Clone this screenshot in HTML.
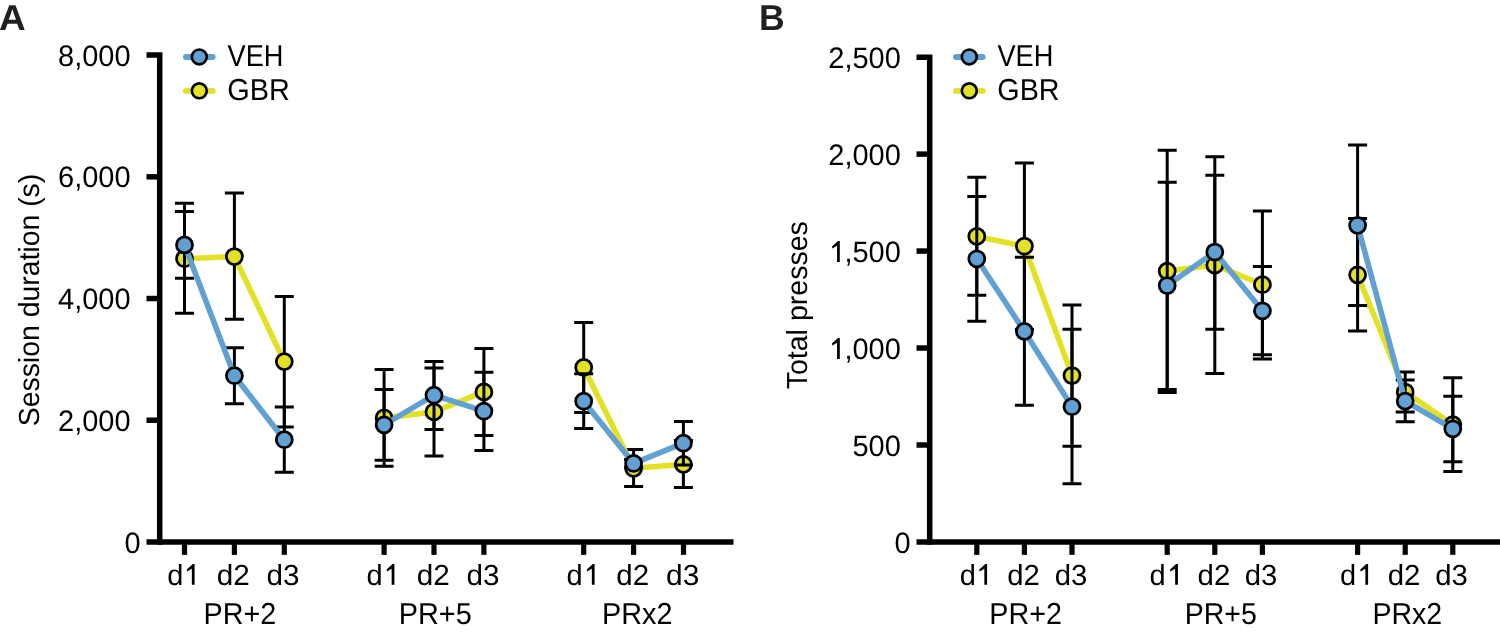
<!DOCTYPE html><html><head><meta charset="utf-8"><style>html,body{margin:0;padding:0;background:#fff;width:1500px;height:634px;overflow:hidden}svg{display:block;will-change:transform}text{font-family:"Liberation Sans",sans-serif;text-rendering:geometricPrecision}</style></head><body>
<svg width="1500" height="634" viewBox="0 0 1500 634">
<rect width="1500" height="634" fill="#fff"/>
<path d="M146.50,55.11H159.70V544.70" stroke="#000" stroke-width="5.5" fill="none" stroke-linejoin="miter"/>
<path d="M146.50,541.95H733.50" stroke="#000" stroke-width="5.5" fill="none"/>
<path d="M146.50,420.24H159.70" stroke="#000" stroke-width="5.5" fill="none"/>
<path d="M146.50,298.53H159.70" stroke="#000" stroke-width="5.5" fill="none"/>
<path d="M146.50,176.82H159.70" stroke="#000" stroke-width="5.5" fill="none"/>
<path d="M184.50,541.95V554.85" stroke="#000" stroke-width="5.2" fill="none"/>
<path d="M234.40,541.95V554.85" stroke="#000" stroke-width="5.2" fill="none"/>
<path d="M284.30,541.95V554.85" stroke="#000" stroke-width="5.2" fill="none"/>
<path d="M384.10,541.95V554.85" stroke="#000" stroke-width="5.2" fill="none"/>
<path d="M434.00,541.95V554.85" stroke="#000" stroke-width="5.2" fill="none"/>
<path d="M483.90,541.95V554.85" stroke="#000" stroke-width="5.2" fill="none"/>
<path d="M583.70,541.95V554.85" stroke="#000" stroke-width="5.2" fill="none"/>
<path d="M633.60,541.95V554.85" stroke="#000" stroke-width="5.2" fill="none"/>
<path d="M683.50,541.95V554.85" stroke="#000" stroke-width="5.2" fill="none"/>
<path d="M916.50,57.15H929.70V544.70" stroke="#000" stroke-width="5.5" fill="none" stroke-linejoin="miter"/>
<path d="M916.50,541.95H1500.50" stroke="#000" stroke-width="5.5" fill="none"/>
<path d="M916.50,444.99H929.70" stroke="#000" stroke-width="5.5" fill="none"/>
<path d="M916.50,348.03H929.70" stroke="#000" stroke-width="5.5" fill="none"/>
<path d="M916.50,251.07H929.70" stroke="#000" stroke-width="5.5" fill="none"/>
<path d="M916.50,154.11H929.70" stroke="#000" stroke-width="5.5" fill="none"/>
<path d="M976.80,541.95V554.85" stroke="#000" stroke-width="5.2" fill="none"/>
<path d="M1024.40,541.95V554.85" stroke="#000" stroke-width="5.2" fill="none"/>
<path d="M1072.00,541.95V554.85" stroke="#000" stroke-width="5.2" fill="none"/>
<path d="M1167.20,541.95V554.85" stroke="#000" stroke-width="5.2" fill="none"/>
<path d="M1214.80,541.95V554.85" stroke="#000" stroke-width="5.2" fill="none"/>
<path d="M1262.40,541.95V554.85" stroke="#000" stroke-width="5.2" fill="none"/>
<path d="M1357.60,541.95V554.85" stroke="#000" stroke-width="5.2" fill="none"/>
<path d="M1405.20,541.95V554.85" stroke="#000" stroke-width="5.2" fill="none"/>
<path d="M1452.80,541.95V554.85" stroke="#000" stroke-width="5.2" fill="none"/>
<path d="M184.50,203.20V313.20M175.00,203.20H194.00M175.00,313.20H194.00M234.40,193.10V319.30M224.90,193.10H243.90M224.90,319.30H243.90M284.30,296.60V426.90M274.80,296.60H293.80M274.80,426.90H293.80M384.10,369.40V466.30M374.60,369.40H393.60M374.60,466.30H393.60M434.00,368.00V455.90M424.50,368.00H443.50M424.50,455.90H443.50M483.90,348.40V435.40M474.40,348.40H493.40M474.40,435.40H493.40M583.70,322.60V412.50M574.20,322.60H593.20M574.20,412.50H593.20M633.60,449.50V486.50M624.10,449.50H643.10M624.10,486.50H643.10M683.40,440.60V487.40M673.90,440.60H692.90M673.90,487.40H692.90" stroke="#000" stroke-width="3.0" fill="none"/>
<path d="M184.50,258.70 L234.40,256.50 L284.30,361.60" stroke="#E3E125" stroke-width="5.6" fill="none" stroke-linejoin="round"/>
<path d="M384.10,417.90 L434.00,411.90 L483.90,391.90" stroke="#E3E125" stroke-width="5.6" fill="none" stroke-linejoin="round"/>
<path d="M583.70,367.40 L633.60,468.30 L683.40,464.40" stroke="#E3E125" stroke-width="5.6" fill="none" stroke-linejoin="round"/>
<circle cx="184.50" cy="258.70" r="8.0" fill="#E3E125" stroke="#000" stroke-width="2.75"/>
<circle cx="234.40" cy="256.50" r="8.0" fill="#E3E125" stroke="#000" stroke-width="2.75"/>
<circle cx="284.30" cy="361.60" r="8.0" fill="#E3E125" stroke="#000" stroke-width="2.75"/>
<circle cx="384.10" cy="417.90" r="8.0" fill="#E3E125" stroke="#000" stroke-width="2.75"/>
<circle cx="434.00" cy="411.90" r="8.0" fill="#E3E125" stroke="#000" stroke-width="2.75"/>
<circle cx="483.90" cy="391.90" r="8.0" fill="#E3E125" stroke="#000" stroke-width="2.75"/>
<circle cx="583.70" cy="367.40" r="8.0" fill="#E3E125" stroke="#000" stroke-width="2.75"/>
<circle cx="633.60" cy="468.30" r="8.0" fill="#E3E125" stroke="#000" stroke-width="2.75"/>
<circle cx="683.40" cy="464.40" r="8.0" fill="#E3E125" stroke="#000" stroke-width="2.75"/>
<path d="M184.50,211.50V278.30M175.00,211.50H194.00M175.00,278.30H194.00M234.40,347.70V403.70M224.90,347.70H243.90M224.90,403.70H243.90M284.30,407.00V472.30M274.80,407.00H293.80M274.80,472.30H293.80M384.10,389.50V460.30M374.60,389.50H393.60M374.60,460.30H393.60M434.00,361.40V429.40M424.50,361.40H443.50M424.50,429.40H443.50M483.90,372.20V450.40M474.40,372.20H493.40M474.40,450.40H493.40M583.70,373.80V428.40M574.20,373.80H593.20M574.20,428.40H593.20M633.60,459.40V467.40M624.10,459.40H643.10M624.10,467.40H643.10M683.40,421.40V465.00M673.90,421.40H692.90M673.90,465.00H692.90" stroke="#000" stroke-width="3.0" fill="none"/>
<path d="M184.50,244.90 L234.40,375.70 L284.30,439.70" stroke="#60A0D3" stroke-width="5.6" fill="none" stroke-linejoin="round"/>
<path d="M384.10,424.80 L434.00,395.20 L483.90,411.20" stroke="#60A0D3" stroke-width="5.6" fill="none" stroke-linejoin="round"/>
<path d="M583.70,401.20 L633.60,463.45 L683.40,443.20" stroke="#60A0D3" stroke-width="5.6" fill="none" stroke-linejoin="round"/>
<circle cx="184.50" cy="244.90" r="8.0" fill="#60A0D3" stroke="#000" stroke-width="2.75"/>
<circle cx="234.40" cy="375.70" r="8.0" fill="#60A0D3" stroke="#000" stroke-width="2.75"/>
<circle cx="284.30" cy="439.70" r="8.0" fill="#60A0D3" stroke="#000" stroke-width="2.75"/>
<circle cx="384.10" cy="424.80" r="8.0" fill="#60A0D3" stroke="#000" stroke-width="2.75"/>
<circle cx="434.00" cy="395.20" r="8.0" fill="#60A0D3" stroke="#000" stroke-width="2.75"/>
<circle cx="483.90" cy="411.20" r="8.0" fill="#60A0D3" stroke="#000" stroke-width="2.75"/>
<circle cx="583.70" cy="401.20" r="8.0" fill="#60A0D3" stroke="#000" stroke-width="2.75"/>
<circle cx="633.60" cy="463.45" r="8.0" fill="#60A0D3" stroke="#000" stroke-width="2.75"/>
<circle cx="683.40" cy="443.20" r="8.0" fill="#60A0D3" stroke="#000" stroke-width="2.75"/>
<path d="M976.80,177.20V295.30M967.30,177.20H986.30M967.30,295.30H986.30M1024.40,163.00V329.60M1014.90,163.00H1033.90M1014.90,329.60H1033.90M1072.00,305.00V446.30M1062.50,305.00H1081.50M1062.50,446.30H1081.50M1167.20,150.20V392.50M1157.70,150.20H1176.70M1157.70,392.50H1176.70M1214.80,156.80V373.60M1205.30,156.80H1224.30M1205.30,373.60H1224.30M1262.40,210.90V358.90M1252.90,210.90H1271.90M1252.90,358.90H1271.90M1357.60,218.40V331.00M1348.10,218.40H1367.10M1348.10,331.00H1367.10M1405.20,372.10V411.90M1395.70,372.10H1414.70M1395.70,411.90H1414.70M1452.80,377.70V471.50M1443.30,377.70H1462.30M1443.30,471.50H1462.30" stroke="#000" stroke-width="3.0" fill="none"/>
<path d="M976.80,236.40 L1024.40,246.20 L1072.00,375.50" stroke="#E3E125" stroke-width="5.6" fill="none" stroke-linejoin="round"/>
<path d="M1167.20,271.10 L1214.80,265.00 L1262.40,284.70" stroke="#E3E125" stroke-width="5.6" fill="none" stroke-linejoin="round"/>
<path d="M1357.60,274.80 L1405.20,392.00 L1452.80,424.60" stroke="#E3E125" stroke-width="5.6" fill="none" stroke-linejoin="round"/>
<circle cx="976.80" cy="236.40" r="8.0" fill="#E3E125" stroke="#000" stroke-width="2.75"/>
<circle cx="1024.40" cy="246.20" r="8.0" fill="#E3E125" stroke="#000" stroke-width="2.75"/>
<circle cx="1072.00" cy="375.50" r="8.0" fill="#E3E125" stroke="#000" stroke-width="2.75"/>
<circle cx="1167.20" cy="271.10" r="8.0" fill="#E3E125" stroke="#000" stroke-width="2.75"/>
<circle cx="1214.80" cy="265.00" r="8.0" fill="#E3E125" stroke="#000" stroke-width="2.75"/>
<circle cx="1262.40" cy="284.70" r="8.0" fill="#E3E125" stroke="#000" stroke-width="2.75"/>
<circle cx="1357.60" cy="274.80" r="8.0" fill="#E3E125" stroke="#000" stroke-width="2.75"/>
<circle cx="1405.20" cy="392.00" r="8.0" fill="#E3E125" stroke="#000" stroke-width="2.75"/>
<circle cx="1452.80" cy="424.60" r="8.0" fill="#E3E125" stroke="#000" stroke-width="2.75"/>
<path d="M976.80,196.60V321.30M967.30,196.60H986.30M967.30,321.30H986.30M1024.40,257.20V405.30M1014.90,257.20H1033.90M1014.90,405.30H1033.90M1072.00,329.30V483.80M1062.50,329.30H1081.50M1062.50,483.80H1081.50M1167.20,182.20V389.60M1157.70,182.20H1176.70M1157.70,389.60H1176.70M1214.80,175.20V329.30M1205.30,175.20H1224.30M1205.30,329.30H1224.30M1262.40,266.60V354.80M1252.90,266.60H1271.90M1252.90,354.80H1271.90M1357.60,144.90V305.50M1348.10,144.90H1367.10M1348.10,305.50H1367.10M1405.20,380.10V421.70M1395.70,380.10H1414.70M1395.70,421.70H1414.70M1452.80,396.30V461.70M1443.30,396.30H1462.30M1443.30,461.70H1462.30" stroke="#000" stroke-width="3.0" fill="none"/>
<path d="M976.80,258.80 L1024.40,331.40 L1072.00,406.70" stroke="#60A0D3" stroke-width="5.6" fill="none" stroke-linejoin="round"/>
<path d="M1167.20,285.50 L1214.80,252.00 L1262.40,310.80" stroke="#60A0D3" stroke-width="5.6" fill="none" stroke-linejoin="round"/>
<path d="M1357.60,225.30 L1405.20,401.00 L1452.80,428.80" stroke="#60A0D3" stroke-width="5.6" fill="none" stroke-linejoin="round"/>
<circle cx="976.80" cy="258.80" r="8.0" fill="#60A0D3" stroke="#000" stroke-width="2.75"/>
<circle cx="1024.40" cy="331.40" r="8.0" fill="#60A0D3" stroke="#000" stroke-width="2.75"/>
<circle cx="1072.00" cy="406.70" r="8.0" fill="#60A0D3" stroke="#000" stroke-width="2.75"/>
<circle cx="1167.20" cy="285.50" r="8.0" fill="#60A0D3" stroke="#000" stroke-width="2.75"/>
<circle cx="1214.80" cy="252.00" r="8.0" fill="#60A0D3" stroke="#000" stroke-width="2.75"/>
<circle cx="1262.40" cy="310.80" r="8.0" fill="#60A0D3" stroke="#000" stroke-width="2.75"/>
<circle cx="1357.60" cy="225.30" r="8.0" fill="#60A0D3" stroke="#000" stroke-width="2.75"/>
<circle cx="1405.20" cy="401.00" r="8.0" fill="#60A0D3" stroke="#000" stroke-width="2.75"/>
<circle cx="1452.80" cy="428.80" r="8.0" fill="#60A0D3" stroke="#000" stroke-width="2.75"/>
<path d="M185.90,57.0H212.70" stroke="#60A0D3" stroke-width="5.8" stroke-linecap="round"/>
<circle cx="199.30" cy="56.9" r="7.45" fill="#60A0D3" stroke="#000" stroke-width="2.65"/>
<path d="M185.90,90.9H212.70" stroke="#E3E125" stroke-width="5.8" stroke-linecap="round"/>
<circle cx="199.30" cy="90.80000000000001" r="7.45" fill="#E3E125" stroke="#000" stroke-width="2.65"/>
<path d="M955.90,57.0H982.70" stroke="#60A0D3" stroke-width="5.8" stroke-linecap="round"/>
<circle cx="969.30" cy="56.9" r="7.45" fill="#60A0D3" stroke="#000" stroke-width="2.65"/>
<path d="M955.90,90.9H982.70" stroke="#E3E125" stroke-width="5.8" stroke-linecap="round"/>
<circle cx="969.30" cy="90.80000000000001" r="7.45" fill="#E3E125" stroke="#000" stroke-width="2.65"/>
<g>
<text x="-0.92" y="29.68" font-size="36" font-weight="bold" fill="#231F20" textLength="26.70" lengthAdjust="spacingAndGlyphs">A</text>
<text x="759.02" y="29.88" font-size="36" font-weight="bold" fill="#231F20" textLength="25.70" lengthAdjust="spacingAndGlyphs">B</text>
<text x="124.55" y="552.58" transform="matrix(1 0 0 1.02 0 -11.052)" font-size="29">0</text>
<text x="58.06" y="430.87" transform="matrix(1 0 0 1.02 0 -8.617)" font-size="29">2,000</text>
<text x="58.06" y="309.16" transform="matrix(1 0 0 1.02 0 -6.183)" font-size="29">4,000</text>
<text x="58.06" y="187.45" transform="matrix(1 0 0 1.02 0 -3.749)" font-size="29">6,000</text>
<text x="58.06" y="65.74" transform="matrix(1 0 0 1.02 0 -1.315)" font-size="29">8,000</text>
<text x="894.55" y="552.58" transform="matrix(1 0 0 1.02 0 -11.052)" font-size="29">0</text>
<text x="852.45" y="455.62" transform="matrix(1 0 0 1.02 0 -9.112)" font-size="29">500</text>
<text x="844.39" y="358.66" transform="matrix(1 0 0 1.02 0 -7.173)" font-size="29">,000</text>
<path d="M839.80,337.96 L839.80,358.96 L837.05,358.96 L837.05,342.76 L832.30,345.56 L832.00,343.36 L838.00,337.96Z" fill="#000"/>
<text x="844.39" y="261.70" transform="matrix(1 0 0 1.02 0 -5.234)" font-size="29">,500</text>
<path d="M839.80,241.00 L839.80,262.00 L837.05,262.00 L837.05,245.80 L832.30,248.60 L832.00,246.40 L838.00,241.00Z" fill="#000"/>
<text x="828.26" y="164.74" transform="matrix(1 0 0 1.02 0 -3.295)" font-size="29">2,000</text>
<text x="828.26" y="67.78" transform="matrix(1 0 0 1.02 0 -1.356)" font-size="29">2,500</text>
<text transform="translate(39.20,426.29) rotate(-90)" font-size="29" textLength="252.55" lengthAdjust="spacingAndGlyphs">Session duration (s)</text>
<text transform="translate(807.00,389.33) rotate(-90)" font-size="29" textLength="168.14" lengthAdjust="spacingAndGlyphs">Total presses</text>
<text x="227.58" y="65.57" transform="matrix(1 0 0 1.045 0 -2.951)" font-size="29" textLength="55.94" lengthAdjust="spacingAndGlyphs">VEH</text>
<text x="227.25" y="99.83" transform="matrix(1 0 0 1.045 0 -4.492)" font-size="29" textLength="62.59" lengthAdjust="spacingAndGlyphs">GBR</text>
<text x="997.48" y="65.72" transform="matrix(1 0 0 1.045 0 -2.958)" font-size="29" textLength="55.94" lengthAdjust="spacingAndGlyphs">VEH</text>
<text x="997.35" y="99.83" transform="matrix(1 0 0 1.045 0 -4.492)" font-size="29" textLength="62.28" lengthAdjust="spacingAndGlyphs">GBR</text>
<text x="167.28" y="584.8" font-size="29">d</text>
<path d="M194.60,564.00 L194.60,584.80 L191.85,584.80 L191.85,568.80 L187.10,571.60 L186.80,569.40 L192.80,564.00Z" fill="#000"/>
<text x="216.65" y="584.82" font-size="29" textLength="33.04" lengthAdjust="spacingAndGlyphs">d2</text>
<text x="266.45" y="584.82" font-size="29" textLength="33.05" lengthAdjust="spacingAndGlyphs">d3</text>
<text x="366.48" y="584.8" font-size="29">d</text>
<path d="M394.40,564.00 L394.40,584.80 L391.65,584.80 L391.65,568.80 L386.90,571.60 L386.60,569.40 L392.60,564.00Z" fill="#000"/>
<text x="416.65" y="584.82" font-size="29" textLength="33.04" lengthAdjust="spacingAndGlyphs">d2</text>
<text x="466.45" y="584.82" font-size="29" textLength="33.05" lengthAdjust="spacingAndGlyphs">d3</text>
<text x="566.38" y="584.8" font-size="29">d</text>
<path d="M594.60,564.00 L594.60,584.80 L591.85,584.80 L591.85,568.80 L587.10,571.60 L586.80,569.40 L592.80,564.00Z" fill="#000"/>
<text x="616.26" y="584.82" font-size="29" textLength="32.82" lengthAdjust="spacingAndGlyphs">d2</text>
<text x="666.14" y="584.82" font-size="29" textLength="33.27" lengthAdjust="spacingAndGlyphs">d3</text>
<text x="959.68" y="584.8" font-size="29">d</text>
<path d="M987.10,564.00 L987.10,584.80 L984.35,584.80 L984.35,568.80 L979.60,571.60 L979.30,569.40 L985.30,564.00Z" fill="#000"/>
<text x="1007.27" y="584.82" font-size="29" textLength="32.61" lengthAdjust="spacingAndGlyphs">d2</text>
<text x="1054.67" y="584.82" font-size="29" textLength="32.62" lengthAdjust="spacingAndGlyphs">d3</text>
<text x="1149.38" y="584.8" font-size="29">d</text>
<path d="M1177.90,564.00 L1177.90,584.80 L1175.15,584.80 L1175.15,568.80 L1170.40,571.60 L1170.10,569.40 L1176.10,564.00Z" fill="#000"/>
<text x="1197.56" y="584.82" font-size="29" textLength="32.71" lengthAdjust="spacingAndGlyphs">d2</text>
<text x="1244.77" y="584.82" font-size="29" textLength="32.62" lengthAdjust="spacingAndGlyphs">d3</text>
<text x="1339.98" y="584.8" font-size="29">d</text>
<path d="M1368.10,564.00 L1368.10,584.80 L1365.35,584.80 L1365.35,568.80 L1360.60,571.60 L1360.30,569.40 L1366.30,564.00Z" fill="#000"/>
<text x="1387.66" y="584.82" font-size="29" textLength="32.71" lengthAdjust="spacingAndGlyphs">d2</text>
<text x="1435.27" y="584.82" font-size="29" textLength="32.62" lengthAdjust="spacingAndGlyphs">d3</text>
<text x="203.44" y="624.23" transform="matrix(1 0 0 1.045 0 -28.090)" font-size="29" textLength="72.81" lengthAdjust="spacingAndGlyphs">PR+2</text>
<text x="398.73" y="623.93" transform="matrix(1 0 0 1.045 0 -28.077)" font-size="29" textLength="73.08" lengthAdjust="spacingAndGlyphs">PR+5</text>
<text x="602.04" y="624.23" transform="matrix(1 0 0 1.045 0 -28.090)" font-size="29" textLength="70.41" lengthAdjust="spacingAndGlyphs">PRx2</text>
<text x="989.34" y="624.23" transform="matrix(1 0 0 1.045 0 -28.090)" font-size="29" textLength="72.70" lengthAdjust="spacingAndGlyphs">PR+2</text>
<text x="1184.76" y="623.93" transform="matrix(1 0 0 1.045 0 -28.077)" font-size="29" textLength="72.14" lengthAdjust="spacingAndGlyphs">PR+5</text>
<text x="1372.46" y="624.23" transform="matrix(1 0 0 1.045 0 -28.090)" font-size="29" textLength="69.78" lengthAdjust="spacingAndGlyphs">PRx2</text>
</g>
</svg></body></html>
